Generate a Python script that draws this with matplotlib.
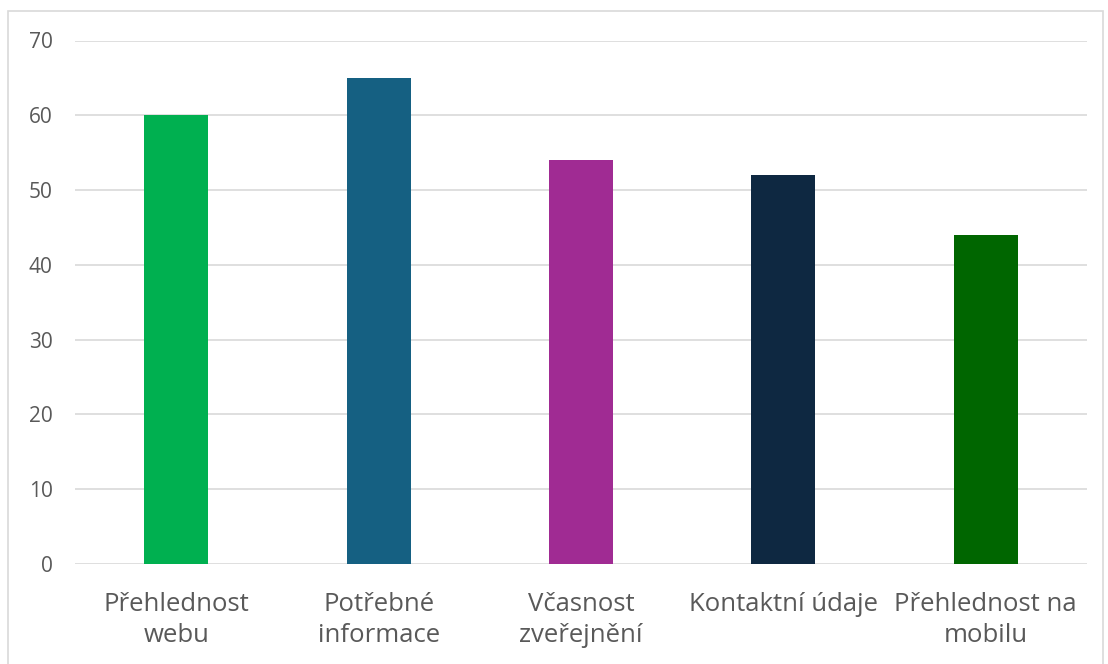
import matplotlib
matplotlib.use("Agg")
import matplotlib.pyplot as plt
from matplotlib.patches import Rectangle

categories = ["Přehlednost\nwebu", "Potřebné\ninformace", "Včasnost\nzveřejnění",
              "Kontaktní údaje", "Přehlednost na\nmobilu"]
values = [60, 65, 54, 52, 44]
colors = ["#00B050", "#156082", "#A02B93", "#0E2841", "#006600"]
yticks = [0, 10, 20, 30, 40, 50, 60, 70]

plt.rcParams["font.family"] = ["Open Sans", "DejaVu Sans"]

fig = plt.figure(figsize=(11.08, 6.64), dpi=100)
ax = fig.add_axes([75 / 1108, 1 - 564 / 664, 1012 / 1108, (564 - 40.5) / 664])

x = list(range(len(categories)))
ax.bar(x, values, width=0.316, color=colors, zorder=3)

ax.set_xlim(-0.5, len(categories) - 0.5)
ax.set_ylim(0, 70)
ax.set_yticks(yticks)
ax.set_xticks(x)
ax.set_xticklabels(categories, linespacing=1.33)
ax.grid(axis="y", color="#D9D9D9", linewidth=1.2, zorder=0)
for s in ax.spines.values():
    s.set_visible(False)
ax.tick_params(length=0, colors="#595959")
ax.tick_params(axis="y", pad=16, labelsize=15)
ax.tick_params(axis="x", pad=20, labelsize=18.5)

# outer chart frame
fig.patches.append(Rectangle((8 / 1108, -0.05), 1095 / 1108, 1 - 11 / 664 + 0.05,
                             transform=fig.transFigure, fill=False,
                             edgecolor="#D9D9D9", linewidth=1.2))

fig.savefig("out.png", dpi=100)
